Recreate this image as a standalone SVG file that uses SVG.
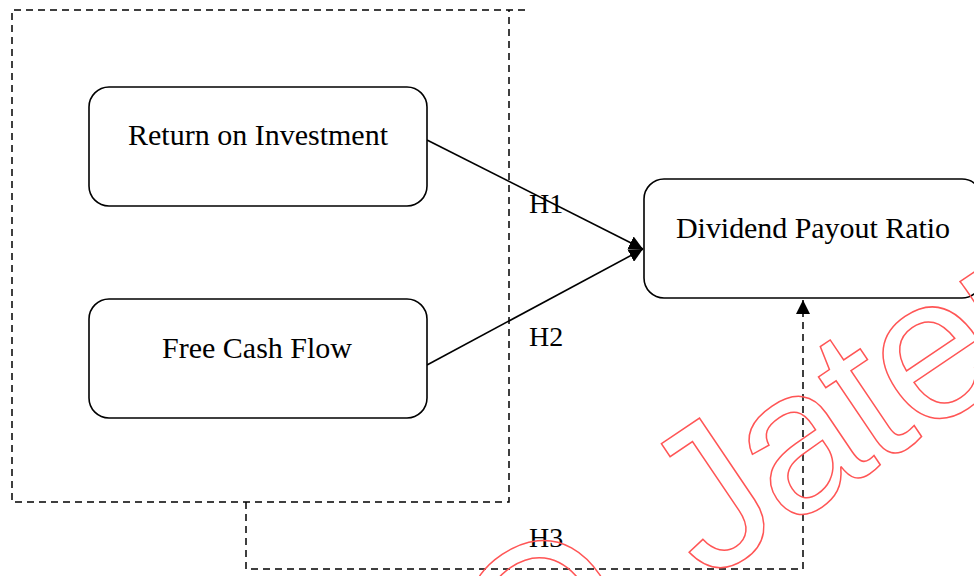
<svg xmlns="http://www.w3.org/2000/svg" width="974" height="576" viewBox="0 0 974 576">
<style>
.node rect{fill:#fff;stroke:#000;stroke-width:1.6}
.lbl{font-family:"Liberation Serif","Times New Roman",serif;font-size:30px;fill:#000;text-anchor:middle}
.h{font-family:"Liberation Serif","Times New Roman",serif;font-size:28px;fill:#000}
.dash{fill:none;stroke:#000;stroke-width:1.5;stroke-dasharray:7 5}
.conn{fill:none;stroke:#000;stroke-width:1.6}
.wm{font-family:"Liberation Sans",Arial,sans-serif;font-size:204px;fill:none;stroke:#f55;stroke-width:1.5}
</style>
<defs>
<marker id="arr2" viewBox="0 0 14 14" refX="14" refY="7" markerWidth="14" markerHeight="14" markerUnits="userSpaceOnUse" orient="auto">
<path d="M0,0 L14,7 L0,14 z" fill="#000"/>
</marker>
</defs>
<rect width="974" height="576" fill="#fff"/>
<g id="frame">
<path class="dash" d="M525,10 H12 V502 H509 V10"/>
</g>
<g id="connectors">
<line class="conn" x1="427" y1="140" x2="643" y2="249" marker-end="url(#arr2)"/>
<line class="conn" x1="427" y1="365" x2="643" y2="249" marker-end="url(#arr2)"/>
<path class="dash" d="M246,502 V569 H803 V300" marker-end="url(#arr2)"/>
</g>
<g id="node-roi" class="node">
<rect x="89" y="87" width="338" height="119" rx="20"/>
<text class="lbl" x="258" y="145">Return on Investment</text>
</g>
<g id="node-fcf" class="node">
<rect x="89" y="299" width="338" height="119" rx="20"/>
<text class="lbl" x="257" y="358">Free Cash Flow</text>
</g>
<g id="node-dpr" class="node">
<rect x="644" y="179" width="338" height="119" rx="20"/>
<text class="lbl" x="813" y="238" textLength="274" lengthAdjust="spacing">Dividend Payout Ratio</text>
</g>
<g id="labels">
<text class="h" x="529" y="213">H1</text>
<text class="h" x="529" y="346">H2</text>
<text class="h" x="529" y="547">H3</text>
</g>
<g id="watermark">
<text class="wm" transform="translate(516,717) rotate(-34)">O</text>
<text class="wm" transform="translate(706,583) rotate(-34)" letter-spacing="-5">Jateng</text>
</g>
</svg>
